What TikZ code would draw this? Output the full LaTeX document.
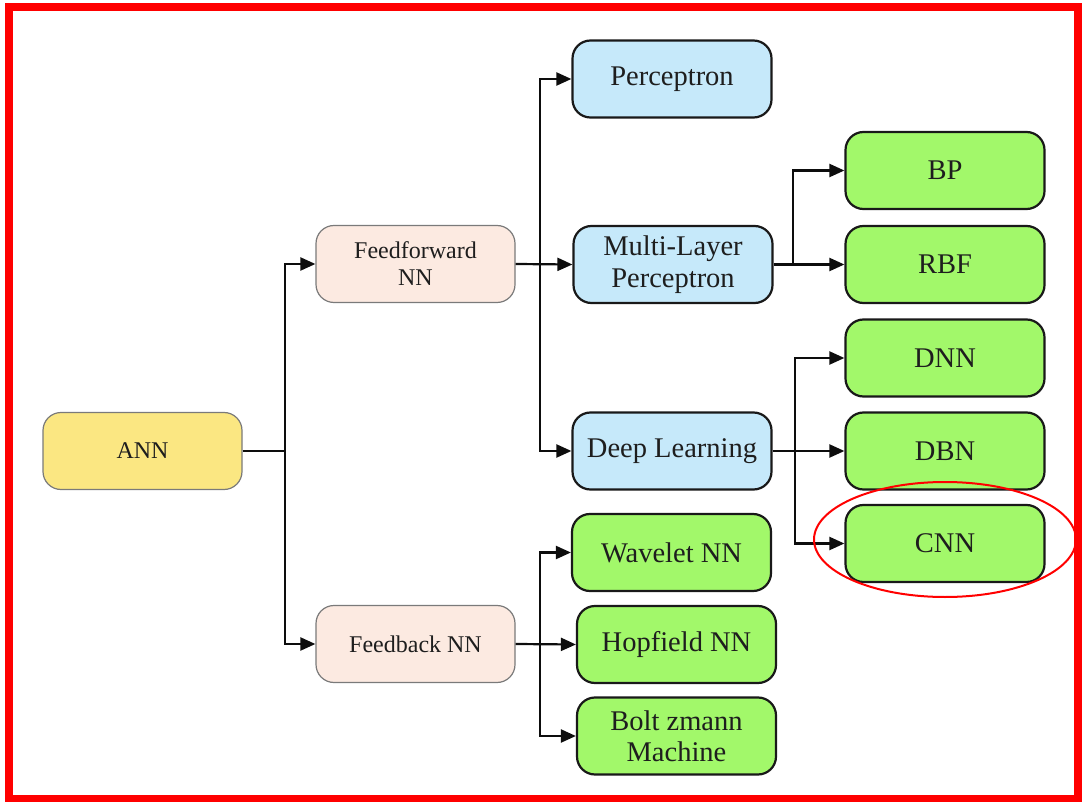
\documentclass[tikz,border=0pt]{standalone}
\usepackage{fontspec}
\setmainfont{Liberation Serif}
\usetikzlibrary{arrows.meta}
\definecolor{annfill}{HTML}{FBE782}
\definecolor{nnfill}{HTML}{FCEAE1}
\definecolor{bluefill}{HTML}{C6E9FA}
\definecolor{greenfill}{HTML}{A2F86A}
\definecolor{softline}{HTML}{7A7A7A}
\definecolor{txt}{HTML}{1E1E1E}
\tikzset{
  box/.style={rounded corners=18pt, inner sep=0pt, align=center,
    minimum width=199pt, minimum height=77pt, text=txt},
  softbox/.style={box, draw=softline, line width=1.2pt,
    font=\fontsize{24}{27}\selectfont},
  hardbox/.style={box, draw=black!90, line width=2.2pt,
    font=\fontsize{28.5}{31.5}\selectfont},
  rootbox/.style={softbox, fill=annfill},
  midbox/.style={softbox, fill=nnfill},
  bluebox/.style={hardbox, fill=bluefill},
  leafbox/.style={hardbox, fill=greenfill},
  link/.style={draw=black!95, line width=2.2pt},
  arrow/.style={link, -{Triangle[length=15pt, width=13pt]}},
}
\begin{document}
\begin{tikzpicture}[x=1pt, y=-1pt]
\useasboundingbox (0,0) rectangle (1082,802);

% outer frame
\draw[red, line width=8pt] (9,7.5) rectangle (1078,798.5);

% nodes
\node[rootbox] (ann) at (142.5,451) {ANN};
\node[midbox] (ff) at (415.5,264) {Feedforward\\NN};
\node[midbox] (fb) at (415.5,644) {Feedback NN};

\node[bluebox] (per) at (672,79) {Perceptron};
\node[bluebox] (mlp) at (673,264.5) {Multi-Layer\\Perceptron};
\node[bluebox] (dl)  at (672,451) {Deep Learning};

\node[leafbox] (bp)  at (945,170.5) {BP};
\node[leafbox] (rbf) at (945,264.5) {RBF};
\node[leafbox] (dnn) at (945,358) {DNN};
\node[leafbox] (dbn) at (945,451) {DBN};
\node[leafbox] (cnn) at (945,543.5) {CNN};

\node[leafbox] (wav) at (671.5,552.5) {Wavelet NN};
\node[leafbox] (hop) at (676.5,644.5) {Hopfield NN};
\node[leafbox] (bol) at (676.5,736) {Bolt zmann\\Machine};

% ANN branch
\path (ann.east) -- ++(42,0) coordinate (j1);
\draw[link] (ann.east) -- (j1);
\draw[arrow] (j1) |- (ff.west);
\draw[arrow] (j1) |- (fb.west);

% feedforward branch
\path (ff.east) -- ++(24,0) coordinate (j2);
\draw[arrow] (ff.east) -- (mlp.west);
\draw[arrow] (j2) |- (per.west);
\draw[arrow] (j2) |- (dl.west);

% multi-layer perceptron branch
\path (mlp.east) -- ++(19,0) coordinate (j3);
\draw[arrow] (mlp.east) -- (rbf.west);
\draw[arrow] (j3) |- (bp.west);

% deep learning branch
\path (dl.east) -- ++(22,0) coordinate (j4);
\draw[arrow] (dl.east) -- (dbn.west);
\draw[arrow] (j4) |- (dnn.west);
\draw[arrow] (j4) |- (cnn.west);

% feedback branch
\path (fb.east) -- ++(24,0) coordinate (j5);
\draw[arrow] (fb.east) -- (hop.west);
\draw[arrow] (j5) |- (wav.west);
\draw[arrow] (j5) |- (bol.west);

% highlight around CNN
\draw[red, line width=2pt] (cnn.center) ++(0,-4) ellipse [x radius=131pt, y radius=57.5pt];
\end{tikzpicture}
\end{document}
